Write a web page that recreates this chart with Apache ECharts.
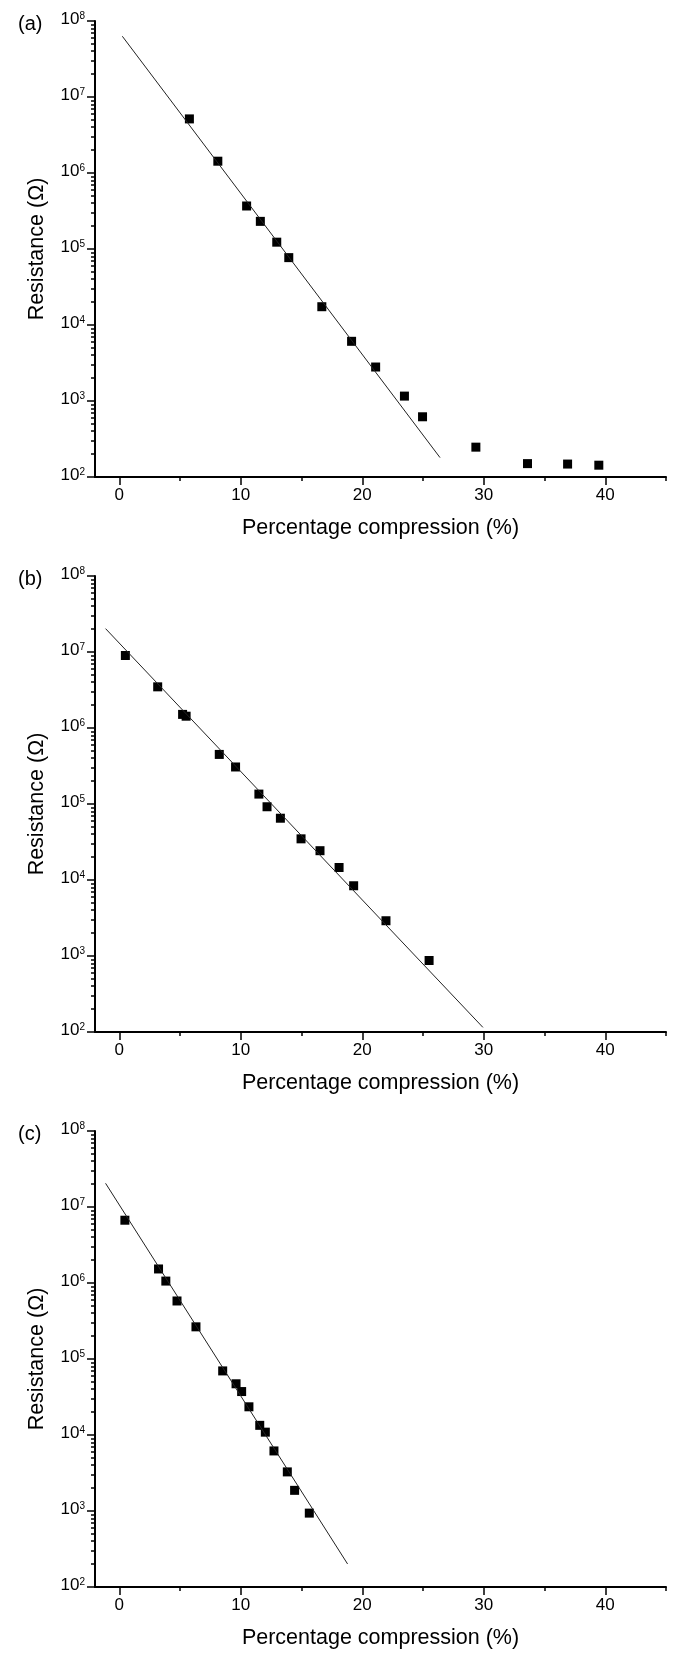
<!DOCTYPE html>
<html>
<head>
<meta charset="utf-8">
<script src="https://cdn.jsdelivr.net/npm/echarts@6/dist/echarts.min.js"></script>
<style>
  html, body { margin: 0; padding: 0; background: #fff; }
  #chart { width: 674px; height: 1656px; }
</style>
</head>
<body>
<div id="chart"></div>
<script>
// panel (a)
const compA = [5.77, 8.11, 10.48, 11.61, 12.96, 13.95, 16.67, 19.12, 21.1, 23.47, 24.96, 29.35, 33.6, 36.9, 39.47];
const resA = [5.15e6, 1.43e6, 3.68e5, 2.31e5, 1.23e5, 7.7e4, 1.74e4, 6.1e3, 2.8e3, 1.16e3, 620, 247, 150, 148, 143];
const fitCompA = [0.25, 26.4];
const fitResA = [6.3e7, 180];

// panel (b)
const compB = [0.5, 3.16, 5.21, 5.5, 8.23, 9.57, 11.49, 12.16, 13.26, 14.96, 16.52, 18.09, 19.29, 21.95, 25.5];
const resB = [9.0e6, 3.48e6, 1.51e6, 1.43e6, 4.49e5, 3.07e5, 1.35e5, 9.2e4, 6.5e4, 3.48e4, 2.43e4, 1.46e4, 8.4e3, 2.91e3, 873];
const fitCompB = [-1.13, 29.93];
const fitResB = [2.03e7, 115];

// panel (c)
const compC = [0.46, 3.23, 3.83, 4.75, 6.31, 8.51, 9.61, 10.07, 10.67, 11.56, 12.02, 12.73, 13.83, 14.43, 15.64];
const resC = [6.7e6, 1.53e6, 1.06e6, 5.8e5, 2.65e5, 6.97e4, 4.72e4, 3.73e4, 2.35e4, 1.34e4, 1.09e4, 6.17e3, 3.27e3, 1.87e3, 938];
const fitCompC = [-1.13, 18.79];
const fitResC = [2.05e7, 201];

const panelLabels = ['(a)', '(b)', '(c)'];
const xTicks = [0, 10, 20, 30, 40];
const xMinorTicks = [5, 15, 25, 35, 45];
const yDecades = [1e2, 1e3, 1e4, 1e5, 1e6, 1e7, 1e8];
const yMinorTicks = [];
for (const d of [1e2, 1e3, 1e4, 1e5, 1e6, 1e7]) {
  for (let k = 2; k <= 9; k++) yMinorTicks.push(d * k);
}

const xName = 'Percentage compression (%)';
const yName = 'Resistance (\u03A9)';
const FONT = '"Liberation Sans", Arial, sans-serif';

const panels = [
  { comp: compA, res: resA, fitC: fitCompA, fitR: fitResA, top: 21 },
  { comp: compB, res: resB, fitC: fitCompB, fitR: fitResB, top: 576 },
  { comp: compC, res: resC, fitC: fitCompC, fitR: fitResC, top: 1131 }
];

const grid = [], xAxis = [], yAxis = [], series = [], title = [];

panels.forEach((p, i) => {
  grid.push({ left: 95, right: 8, top: p.top, height: 456, outerBoundsMode: 'none', containLabel: false });
  title.push({
    text: panelLabels[i], left: 13, top: p.top - 12,
    textStyle: { fontFamily: FONT, fontSize: 20, fontWeight: 'normal', color: '#000' }
  });
  // main x axis: labels + major ticks
  xAxis.push({
    type: 'value', gridIndex: i, min: -2, max: 45,
    name: xName, nameLocation: 'middle', nameGap: 40,
    nameTextStyle: { fontFamily: FONT, fontSize: 21.5, color: '#000' },
    axisLine: { show: true, onZero: false, lineStyle: { color: '#000', width: 2 } },
    axisTick: { show: true, length: 8, inside: false, customValues: xTicks, lineStyle: { color: '#000', width: 1.5 } },
    axisLabel: { show: true, customValues: xTicks, margin: 10, fontFamily: FONT, fontSize: 17, color: '#000' },
    splitLine: { show: false }
  });
  // overlay x axis: minor ticks
  xAxis.push({
    type: 'value', gridIndex: i, min: -2, max: 45, position: 'bottom',
    axisLine: { show: false, onZero: false },
    axisTick: { show: true, length: 4, inside: false, customValues: xMinorTicks, lineStyle: { color: '#000', width: 1.5 } },
    axisLabel: { show: false },
    splitLine: { show: false }
  });
  // main y axis
  yAxis.push({
    type: 'log', logBase: 10, gridIndex: i, min: 1e2, max: 1e8, position: 'left',
    name: yName, nameLocation: 'middle', nameGap: 47,
    nameTextStyle: { fontFamily: FONT, fontSize: 21.5, color: '#000' },
    axisLine: { show: true, onZero: false, lineStyle: { color: '#000', width: 2 } },
    axisTick: { show: true, length: 8, inside: false, customValues: yDecades, lineStyle: { color: '#000', width: 1.5 } },
    axisLabel: {
      show: true, customValues: yDecades, margin: 10, color: '#000',
      padding: [0, 0, 3, 0],
      formatter: v => '{b|10}{s|' + Math.round(Math.log10(v)) + '}',
      rich: {
        b: { fontFamily: FONT, fontSize: 17, lineHeight: 17, verticalAlign: 'bottom', color: '#000' },
        s: { fontFamily: FONT, fontSize: 10, lineHeight: 10, verticalAlign: 'top', padding: [0, 0, 10, 0], color: '#000' }
      }
    },
    splitLine: { show: false }
  });
  // overlay y axis: minor ticks
  yAxis.push({
    type: 'log', logBase: 10, gridIndex: i, min: 1e2, max: 1e8, position: 'left',
    axisLine: { show: false, onZero: false },
    axisTick: { show: true, length: 4, inside: false, customValues: yMinorTicks, lineStyle: { color: '#000', width: 1.5 } },
    axisLabel: { show: false },
    splitLine: { show: false }
  });

  series.push({
    type: 'line', xAxisIndex: 2 * i, yAxisIndex: 2 * i,
    data: p.fitC.map((c, k) => [c, p.fitR[k]]),
    showSymbol: false, symbol: 'none', silent: true,
    lineStyle: { color: '#222', width: 1 }
  });
  series.push({
    type: 'scatter', xAxisIndex: 2 * i, yAxisIndex: 2 * i,
    data: p.comp.map((c, k) => [c, p.res[k]]),
    symbol: 'rect', symbolSize: 9,
    itemStyle: { color: '#000', opacity: 1 }
  });
});

const chart = echarts.init(document.getElementById('chart'), null, { renderer: 'canvas' });
chart.setOption({
  animation: false,
  backgroundColor: '#fff',
  title, grid, xAxis, yAxis, series
});
</script>
</body>
</html>
